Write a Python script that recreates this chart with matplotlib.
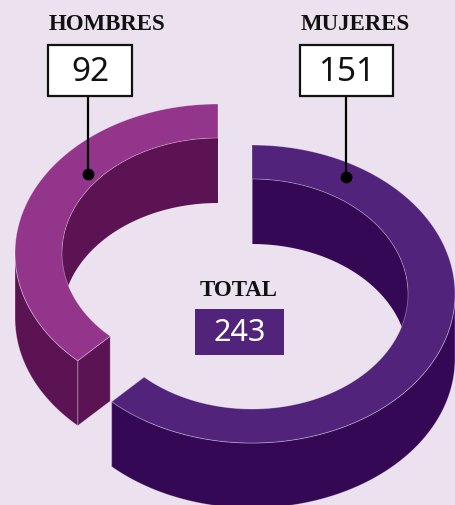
import numpy as np
import matplotlib.pyplot as plt
from matplotlib.patches import Rectangle

# data
categories = ["HOMBRES", "MUJERES"]
values = [92, 151]
total_label = "TOTAL"

# colours
bg = "#ECE1EF"
top_colors = ["#93358B", "#51237A"]
wall_colors = ["#5C1353", "#350856"]

# ring geometry in pixels (y grows downwards)
centers = [(218, 254), (252, 295)]   # hombres is pulled out up-left
rx_out, ry_out = 203, 149
rx_in, ry_in = 156, 115
depth = 65

fig = plt.figure(figsize=(4.55, 5.06), dpi=100)
fig.patch.set_facecolor(bg)
ax = fig.add_axes([0, 0, 1, 1])
ax.set_xlim(0, 455)
ax.set_ylim(506, 0)
ax.axis("off")


def curve(cx, cy, rx, ry, a, dy=0):
    return cx + rx * np.cos(a), cy - ry * np.sin(a) + dy


def clip(a0, a1, lo, hi):
    lo_, hi_ = max(a0, lo), min(a1, hi)
    if hi_ <= lo_:
        return None
    return np.linspace(lo_, hi_, 150)


total = sum(values)
spans = [v / total * 2 * np.pi for v in values]
# hombres runs counter clockwise from the top, mujeres clockwise
ranges = [(np.pi / 2, np.pi / 2 + spans[0]), (np.pi / 2 - spans[1], np.pi / 2)]
edge = dict(edgecolor=(1, 1, 1, 0.35), linewidth=0.6)

for i in range(len(values)):
    cx, cy = centers[i]
    a0, a1 = ranges[i]

    # inner wall, back half
    a = clip(a0, a1, 0, np.pi)
    if a is not None:
        x, y = curve(cx, cy, rx_in, ry_in, a)
        xs = np.concatenate([x, x[::-1]])
        ys = np.concatenate([y, (y + depth)[::-1]])
        ax.fill(xs, ys, color=wall_colors[i], lw=0)

    # cut faces
    for e in (a0, a1):
        xo, yo = curve(cx, cy, rx_out, ry_out, e)
        xi, yi = curve(cx, cy, rx_in, ry_in, e)
        ax.fill([xo, xi, xi, xo], [yo, yi, yi + depth, yo + depth],
                facecolor=wall_colors[i], **edge)

    # outer wall, front half
    for lo, hi in ((-np.pi, 0), (np.pi, 2 * np.pi)):
        a = clip(a0, a1, lo, hi)
        if a is not None:
            x, y = curve(cx, cy, rx_out, ry_out, a)
            xs = np.concatenate([x, x[::-1]])
            ys = np.concatenate([y, (y + depth)[::-1]])
            ax.fill(xs, ys, facecolor=wall_colors[i], **edge)

    # top surface
    a = np.linspace(a0, a1, 300)
    xo, yo = curve(cx, cy, rx_out, ry_out, a)
    xi, yi = curve(cx, cy, rx_in, ry_in, a)
    ax.fill(np.concatenate([xo, xi[::-1]]), np.concatenate([yo, yi[::-1]]),
            facecolor=top_colors[i], **edge)

# labels with boxes and leader lines
label_x = [107, 355]
box_x = [(48, 132), (300, 393)]
leader_x = [88, 346]
leader_r = [0.83, 0.91]
for i, name in enumerate(categories):
    cx, cy = centers[i]
    ax.text(label_x[i], 24, name, ha="center", va="center",
            fontsize=16.5, fontweight="bold", family="Liberation Serif", color="#111111")
    bx0, bx1 = box_x[i]
    # dot on the ring at the leader x
    r = leader_r[i]
    c = (leader_x[i] - cx) / (rx_out * r)
    dot_y = cy - ry_out * r * np.sqrt(1 - c ** 2)
    ax.plot([leader_x[i], leader_x[i]], [97, dot_y], color="black", lw=1.6)
    ax.plot(leader_x[i], dot_y, "o", color="black", ms=7.5)
    ax.add_patch(Rectangle((bx0, 46), bx1 - bx0, 51, facecolor="white",
                           edgecolor="#111111", lw=1.6, zorder=3))
    ax.text((bx0 + bx1) / 2, 72, str(values[i]), ha="center", va="center",
            fontsize=24, family="Noto Sans", color="#111111", zorder=4)

ax.text(239, 290, total_label, ha="center", va="center",
        fontsize=16.5, fontweight="bold", family="Liberation Serif", color="#111111")
ax.add_patch(Rectangle((195, 310), 89, 46, facecolor=top_colors[1], lw=0))
ax.text(240, 333, str(total), ha="center", va="center",
        fontsize=22, family="Noto Sans", color="white")

fig.savefig("out.png", dpi=100, facecolor=bg)
